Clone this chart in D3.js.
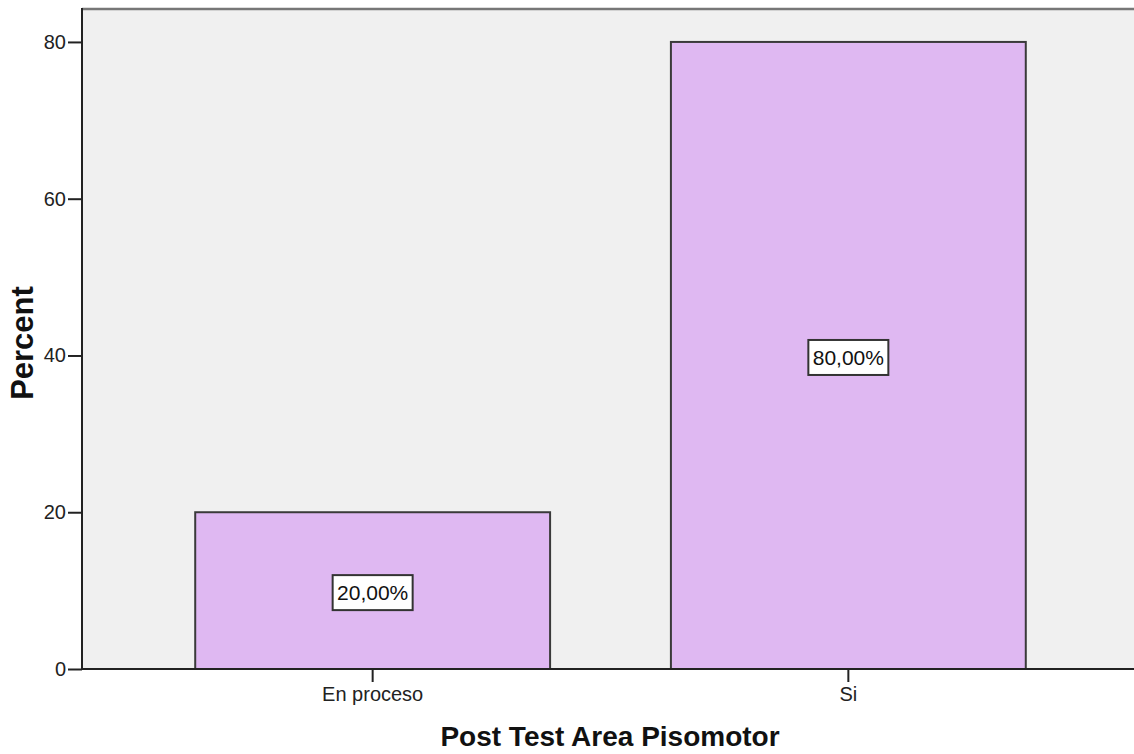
<!DOCTYPE html>
<html><head><meta charset="utf-8">
<script src="https://cdn.jsdelivr.net/npm/d3@7"></script>
<style>body{margin:0;background:#fff}svg{display:block}text{font-family:"Liberation Sans",Arial,sans-serif}</style>
</head><body>
<svg id="c" width="1134" height="754"></svg>
<script>
const categories = ["En proceso", "Si"];
const percents = [20, 80];
const labels = ["20,00%", "80,00%"];
const yTicks = [0, 20, 40, 60, 80];
const xTitle = "Post Test Area Pisomotor";
const yTitle = "Percent";

const svg = d3.select("#c");
const L = 82, T = 8, R = 1134, B = 669;
const y = d3.scaleLinear().domain([0, 84.33]).range([B, T]);
const x = d3.scaleBand().domain(categories).range([L, 1139]).paddingInner(0.254).paddingOuter(0.238);

svg.append("rect").attr("x", L).attr("y", T).attr("width", R - L).attr("height", B - T).attr("fill", "#f0f0f0");
svg.append("line").attr("x1", L).attr("x2", R).attr("y1", T + 1).attr("y2", T + 1).attr("stroke", "#777").attr("stroke-width", 2.5);

svg.selectAll(".bar").data(categories).enter().append("rect")
  .attr("x", d => x(d)).attr("y", (d, i) => y(percents[i]))
  .attr("width", x.bandwidth()).attr("height", (d, i) => B - y(percents[i]))
  .attr("fill", "#dfb8f2").attr("stroke", "#3a3a3a").attr("stroke-width", 2);

const yAxis = svg.append("g").attr("transform", `translate(${L},0)`)
  .call(d3.axisLeft(y).tickValues(yTicks).tickSize(14).tickPadding(2).tickFormat(d3.format("d")));
yAxis.select(".domain").attr("stroke", "#222").attr("stroke-width", 2).attr("d", `M0,${T}V${B}`);
yAxis.selectAll(".tick line").attr("stroke", "#222").attr("stroke-width", 2);
yAxis.selectAll("text").attr("font-size", 20).attr("fill", "#222");

const xAxis = svg.append("g").attr("transform", `translate(0,${B})`)
  .call(d3.axisBottom(x).tickSize(13).tickPadding(5));
xAxis.select(".domain").attr("stroke", "#222").attr("stroke-width", 2).attr("d", `M${L},0H${R}`);
xAxis.selectAll(".tick line").attr("stroke", "#222").attr("stroke-width", 2);
xAxis.selectAll("text").attr("font-size", 20).attr("fill", "#222");

categories.forEach((c, i) => {
  const cx = x(c) + x.bandwidth() / 2, cy = y(percents[i] / 2) + 2;
  const g = svg.append("g");
  g.append("rect").attr("x", cx - 40).attr("y", cy - 17.5).attr("width", 80).attr("height", 35)
    .attr("fill", "#fff").attr("stroke", "#333").attr("stroke-width", 2);
  g.append("text").attr("x", cx).attr("y", cy).attr("text-anchor", "middle")
    .attr("dominant-baseline", "central").attr("font-size", 21).attr("fill", "#111").text(labels[i]);
});

svg.append("text").attr("x", 610).attr("y", 746).attr("text-anchor", "middle")
  .attr("font-size", 28).attr("font-weight", "bold").attr("fill", "#111").text(xTitle);
svg.append("text").attr("transform", `translate(33,343) rotate(-90)`).attr("text-anchor", "middle")
  .attr("font-size", 31).attr("font-weight", "bold").attr("fill", "#111").text(yTitle);
</script>
</body></html>
